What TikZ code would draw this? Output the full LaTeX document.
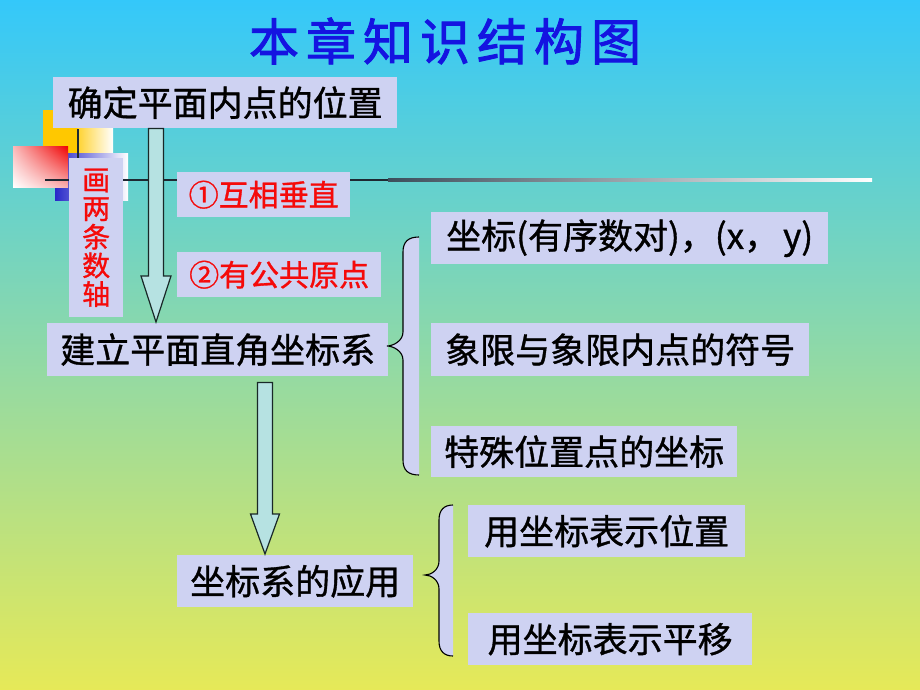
\documentclass[tikz,border=0pt]{standalone}
\usepackage{fontspec}
\usetikzlibrary{calc,shadings}
\newfontfamily\cjk[FakeBold=1.0]{Noto Sans CJK SC}
\newfontfamily\cjkt[FakeBold=1.8]{Noto Sans CJK SC}
\definecolor{bgtop}{RGB}{52,200,250}
\definecolor{bgmid}{RGB}{150,218,205}
\definecolor{bgbot}{RGB}{230,233,88}
\definecolor{boxfill}{RGB}{206,210,242}
\definecolor{arrfill}{RGB}{182,226,226}
\definecolor{arrline}{RGB}{25,40,40}
\definecolor{redtxt}{RGB}{245,10,10}
\definecolor{titleblue}{RGB}{20,20,225}
\definecolor{decogold}{RGB}{255,200,0}
\definecolor{decored}{RGB}{240,0,0}
\definecolor{decopinkA}{RGB}{250,185,185}
\definecolor{decopinkB}{RGB}{250,175,175}
\definecolor{decoblue}{RGB}{40,40,200}
\definecolor{linedark}{RGB}{60,78,92}
\definecolor{lineblack}{RGB}{30,40,50}
\newcommand\drawbrace[6]{%
  \fill[boxfill] (#4,#5) .. controls ({#3+5},#5) and (#3,{#5+5}) .. (#3,{#5+15})
    -- (#3,{#2-14}) .. controls (#3,{#2-5}) and ({#1+6},#2) .. (#1,#2)
    .. controls ({#1+6},#2) and (#3,{#2+5}) .. (#3,{#2+14})
    -- (#3,{#6-15}) .. controls (#3,{#6-5}) and ({#3+5},#6) .. (#4,#6) -- cycle;
  \draw[braceline] (#4,#5) .. controls ({#3+5},#5) and (#3,{#5+5}) .. (#3,{#5+15})
    -- (#3,{#2-14}) .. controls (#3,{#2-5}) and ({#1+6},#2) .. (#1,#2)
    .. controls ({#1+6},#2) and (#3,{#2+5}) .. (#3,{#2+14})
    -- (#3,{#6-15}) .. controls (#3,{#6-5}) and ({#3+5},#6) .. (#4,#6);
}
\tikzset{
  box/.style={fill=boxfill, inner sep=0pt, anchor=north west, text=black,
    font=\cjk\fontsize{35}{40}\selectfont},
  redbox/.style={box, text=redtxt, font=\cjk\fontsize{30}{34}\selectfont},
  blockarrow/.style={fill=arrfill, draw=arrline, line width=1.2pt, line join=miter},
  braceline/.style={draw=black, line width=1.1pt},
  decoline/.style={draw=lineblack, line width=2.5pt},
}
\begin{document}
\begin{tikzpicture}[x=1pt,y=-1pt]
\useasboundingbox (0,0) rectangle (920,690);
% background
\shade[top color=bgtop, middle color=bgmid, bottom color=bgbot] (0,0) rectangle (920,690);
% decoration squares
\fill[decogold] (43,110) rectangle (78,154);
\shade[left color=decogold!80!white, right color=white] (78,110) rectangle (113,154);
\shade[left color=decoblue, right color=white] (55,153) rectangle (128,200);
\shade[upper left=decopinkA, upper right=decored,
       lower left=white, lower right=decopinkB] (13,146) rectangle (68,187);
\draw[decoline] (78,129) -- (78,198);
\draw[decoline] (45,180) -- (390,180);
\shade[left color=linedark, right color=white] (388,178.6) rectangle (872,181.4);
% title
\node[text=titleblue, font=\cjkt\fontsize{50}{56}\selectfont] (title) at (445,41)
  {本\hspace{7pt}章\hspace{7pt}知\hspace{7pt}识\hspace{7pt}结\hspace{7pt}构\hspace{7pt}图};
% boxes
\node[box, minimum width=344, minimum height=51] (top) at (53,77) {确定平面内点的位置};
\node[redbox, minimum width=54, minimum height=159, align=center,
      font=\cjk\fontsize{28}{28.6}\selectfont] (axes) at (69,158) {画\\两\\条\\数\\轴};
\node[redbox, minimum width=173, minimum height=45] (perp) at (177,172) {①互相垂直};
\node[redbox, minimum width=204, minimum height=45] (orig) at (177,252) {②有公共原点};
\node[box, minimum width=341, minimum height=53] (build) at (47,323) {建立平面直角坐标系};
\node[box, minimum width=397, minimum height=52] (coord) at (431,212) {坐标(有序数对)，(x，\hspace{4pt}y)};
\node[box, minimum width=378, minimum height=53] (quad) at (431,323) {象限与象限内点的符号};
\node[box, minimum width=306, minimum height=51] (spec) at (431,426) {特殊位置点的坐标};
\node[box, minimum width=236, minimum height=52] (app) at (177,555) {坐标系的应用};
\node[box, minimum width=277, minimum height=52] (pos) at (468,505) {用坐标表示位置};
\node[box, minimum width=284, minimum height=52] (trans) at (468,613) {用坐标表示平移};
% block arrows
\coordinate (a1x) at (156,0);
\coordinate (a2x) at (265,0);
\draw[blockarrow] ($(a1x |- top.south)+(-7.5,0)$) -- ($(a1x |- top.south)+(7.5,0)$)
  -- ($(a1x |- build.north)+(7.5,-47)$) -- ($(a1x |- build.north)+(15,-47)$)
  -- ($(a1x |- build.north)+(0,-1)$) -- ($(a1x |- build.north)+(-15,-47)$)
  -- ($(a1x |- build.north)+(-7.5,-47)$) -- cycle;
\draw[blockarrow] ($(a2x |- build.south)+(-7.5,6)$) -- ($(a2x |- build.south)+(7.5,6)$)
  -- ($(a2x |- app.north)+(7.5,-41)$) -- ($(a2x |- app.north)+(14.5,-41)$)
  -- ($(a2x |- app.north)+(0,-1)$) -- ($(a2x |- app.north)+(-14.5,-41)$)
  -- ($(a2x |- app.north)+(-7.5,-41)$) -- cycle;
% braces
\drawbrace{387}{346}{403}{419}{237}{475}
\drawbrace{425}{575}{439}{453}{505}{656}
\end{tikzpicture}
\end{document}
